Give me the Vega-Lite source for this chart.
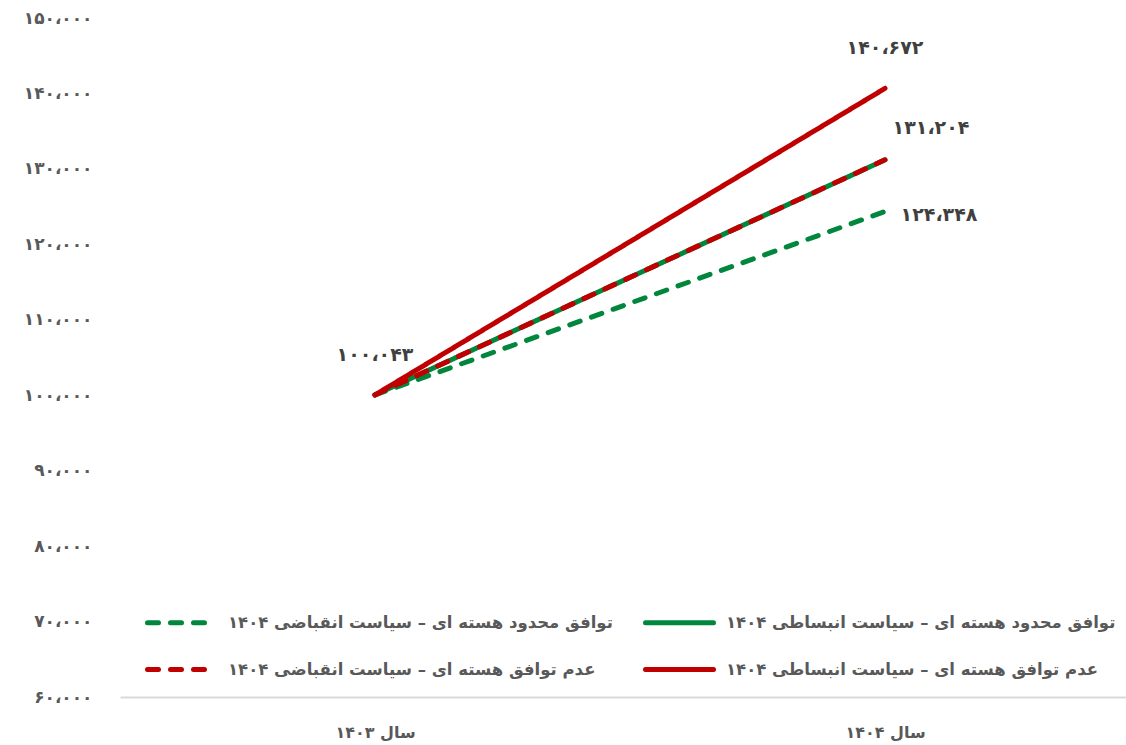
{
  "$schema": "https://vega.github.io/schema/vega-lite/v6.json",
  "width": 1020,
  "height": 679,
  "autosize": {"type": "none"},
  "padding": {"left": 120, "top": 18, "right": 0, "bottom": 48},
  "background": "white",
  "config": {
    "font": "DejaVu Sans",
    "view": {"stroke": null},
    "locale": {
      "number": {
        "decimal": ".",
        "thousands": "،",
        "grouping": [3],
        "currency": ["", ""],
        "numerals": ["۰", "۱", "۲", "۳", "۴", "۵", "۶", "۷", "۸", "۹"]
      }
    }
  },
  "data": {
    "values": [
      {"year": "سال ۱۴۰۳", "series": "توافق محدود هسته ای – سیاست انبساطی ۱۴۰۴", "value": 100043},
      {"year": "سال ۱۴۰۴", "series": "توافق محدود هسته ای – سیاست انبساطی ۱۴۰۴", "value": 131204},
      {"year": "سال ۱۴۰۳", "series": "توافق محدود هسته ای  – سیاست انقباضی ۱۴۰۴", "value": 100043},
      {"year": "سال ۱۴۰۴", "series": "توافق محدود هسته ای  – سیاست انقباضی ۱۴۰۴", "value": 124348},
      {"year": "سال ۱۴۰۳", "series": "عدم توافق هسته ای   – سیاست انقباضی ۱۴۰۴", "value": 100043},
      {"year": "سال ۱۴۰۴", "series": "عدم توافق هسته ای   – سیاست انقباضی ۱۴۰۴", "value": 131204},
      {"year": "سال ۱۴۰۳", "series": "عدم توافق هسته ای  – سیاست انبساطی ۱۴۰۴", "value": 100043},
      {"year": "سال ۱۴۰۴", "series": "عدم توافق هسته ای  – سیاست انبساطی ۱۴۰۴", "value": 140672}
    ]
  },
  "encoding": {
    "x": {
      "field": "year",
      "type": "ordinal",
      "sort": ["سال ۱۴۰۳", "سال ۱۴۰۴"],
      "scale": {"type": "point", "padding": 0.5},
      "axis": {
        "title": null,
        "labelAngle": 0,
        "ticks": false,
        "grid": false,
        "domainColor": "#d9d9d9",
        "domainWidth": 2,
        "labelFontSize": 16,
        "labelFontWeight": "bold",
        "labelColor": "#595959",
        "labelPadding": 27
      }
    },
    "y": {
      "field": "value",
      "type": "quantitative",
      "scale": {"domain": [60000, 150000], "nice": false, "zero": false},
      "axis": {
        "title": null,
        "values": [60000, 70000, 80000, 90000, 100000, 110000, 120000, 130000, 140000, 150000],
        "format": ",d",
        "domain": false,
        "ticks": false,
        "grid": false,
        "labelFontSize": 17,
        "labelFontWeight": "bold",
        "labelColor": "#595959",
        "labelPadding": 28
      }
    }
  },
  "layer": [
    {
      "mark": {"type": "line", "strokeWidth": 5, "strokeCap": "round"},
      "encoding": {
        "color": {
          "field": "series",
          "type": "nominal",
          "scale": {
            "domain": [
              "توافق محدود هسته ای  – سیاست انقباضی ۱۴۰۴",
              "عدم توافق هسته ای   – سیاست انقباضی ۱۴۰۴",
              "توافق محدود هسته ای – سیاست انبساطی ۱۴۰۴",
              "عدم توافق هسته ای  – سیاست انبساطی ۱۴۰۴"
            ],
            "range": ["#00873D", "#C00000", "#00873D", "#C00000"]
          },
          "legend": {
            "orient": "none",
            "legendX": 25,
            "legendY": 568,
            "columns": 2,
            "title": null,
            "symbolType": "stroke",
            "symbolSize": 4624,
            "symbolStrokeWidth": 5,
            "labelFontSize": 16.5,
            "labelFontWeight": "bold",
            "labelColor": "#595959",
            "labelLimit": 700,
            "labelOffset": 10,
            "columnPadding": 16,
            "rowPadding": -20,
            "encode": {"symbols": {"update": {"strokeCap": {"value": "round"}}}}
          }
        },
        "strokeDash": {
          "field": "series",
          "type": "nominal",
          "scale": {
            "domain": [
              "توافق محدود هسته ای  – سیاست انقباضی ۱۴۰۴",
              "عدم توافق هسته ای   – سیاست انقباضی ۱۴۰۴",
              "توافق محدود هسته ای – سیاست انبساطی ۱۴۰۴",
              "عدم توافق هسته ای  – سیاست انبساطی ۱۴۰۴"
            ],
            "range": [[11, 12], [11, 12], [1, 0], [1, 0]]
          },
          "legend": {
            "orient": "none",
            "legendX": 25,
            "legendY": 568,
            "columns": 2,
            "title": null,
            "symbolType": "stroke",
            "symbolSize": 4624,
            "symbolStrokeWidth": 5,
            "labelFontSize": 16.5,
            "labelFontWeight": "bold",
            "labelColor": "#595959",
            "labelLimit": 700,
            "labelOffset": 10,
            "columnPadding": 16,
            "rowPadding": -20,
            "encode": {"symbols": {"update": {"strokeCap": {"value": "round"}}}}
          }
        }
      }
    },
    {
      "transform": [{"filter": "datum.year === 'سال ۱۴۰۳' && datum.series === 'عدم توافق هسته ای  – سیاست انبساطی ۱۴۰۴'"}],
      "mark": {"type": "text", "fontSize": 19, "fontWeight": "bold", "color": "#404040", "baseline": "middle", "dy": -40},
      "encoding": {"text": {"field": "value", "type": "quantitative", "format": ","}}
    },
    {
      "transform": [{"filter": "datum.year === 'سال ۱۴۰۴' && datum.series === 'عدم توافق هسته ای  – سیاست انبساطی ۱۴۰۴'"}],
      "mark": {"type": "text", "fontSize": 19, "fontWeight": "bold", "color": "#404040", "baseline": "middle", "dy": -40},
      "encoding": {"text": {"field": "value", "type": "quantitative", "format": ","}}
    },
    {
      "transform": [{"filter": "datum.year === 'سال ۱۴۰۴' && datum.series === 'توافق محدود هسته ای – سیاست انبساطی ۱۴۰۴'"}],
      "mark": {"type": "text", "fontSize": 19, "fontWeight": "bold", "color": "#404040", "baseline": "middle", "dx": 46, "dy": -32},
      "encoding": {"text": {"field": "value", "type": "quantitative", "format": ","}}
    },
    {
      "transform": [{"filter": "datum.year === 'سال ۱۴۰۴' && datum.series === 'توافق محدود هسته ای  – سیاست انقباضی ۱۴۰۴'"}],
      "mark": {"type": "text", "fontSize": 19, "fontWeight": "bold", "color": "#404040", "baseline": "middle", "dx": 54, "dy": 3},
      "encoding": {"text": {"field": "value", "type": "quantitative", "format": ","}}
    }
  ]
}
